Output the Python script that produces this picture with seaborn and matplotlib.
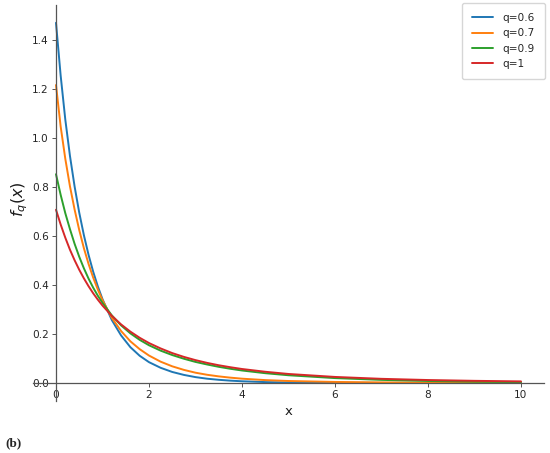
import matplotlib
matplotlib.use("Agg")
import matplotlib.pyplot as plt
import seaborn as sns
import pandas as pd

# ---- data ----
x_vals = [0, 0.1, 0.2, 0.3, 0.4, 0.5, 0.6, 0.7, 0.8, 0.9, 1.0, 1.2, 1.4, 1.6, 1.8,
          2.0, 2.25, 2.5, 2.75, 3.0, 3.25, 3.5, 3.75, 4.0, 4.5, 5, 6, 7, 8, 9, 10]
f_q06 = [1.47, 1.255, 1.075, 0.927, 0.802, 0.695, 0.603, 0.523, 0.454, 0.394, 0.342,
         0.257, 0.194, 0.146, 0.111, 0.085, 0.062, 0.045, 0.033, 0.024, 0.0175, 0.013,
         0.0095, 0.007, 0.0037, 0.002, 0.0006, 0.0002, 0.0001, 0.0, 0.0]
f_q07 = [1.216, 1.047, 0.915, 0.803, 0.708, 0.624, 0.550, 0.486, 0.430, 0.381, 0.338,
         0.266, 0.212, 0.170, 0.138, 0.112, 0.087, 0.068, 0.0535, 0.042, 0.0335, 0.027,
         0.0218, 0.0176, 0.0118, 0.0081, 0.0043, 0.0024, 0.0013, 0.0007, 0.0004]
f_q09 = [0.852, 0.768, 0.693, 0.628, 0.568, 0.515, 0.468, 0.426, 0.389, 0.356, 0.327,
         0.276, 0.235, 0.2025, 0.176, 0.154, 0.132, 0.114, 0.099, 0.086, 0.0755, 0.066,
         0.058, 0.051, 0.040, 0.0316, 0.020, 0.0127, 0.0082, 0.0053, 0.0035]
f_q10 = [0.707, 0.647, 0.593, 0.544, 0.501, 0.462, 0.427, 0.395, 0.366, 0.340, 0.316,
         0.274, 0.239, 0.2095, 0.1845, 0.163, 0.141, 0.122, 0.1065, 0.0933, 0.082, 0.0724,
         0.0643, 0.0571, 0.0458, 0.0368, 0.0247, 0.017, 0.0121, 0.0088, 0.0065]
series_labels = ["q=0.6", "q=0.7", "q=0.9", "q=1"]
x_ticks = [0, 2, 4, 6, 8, 10]
y_ticks = [0.0, 0.2, 0.4, 0.6, 0.8, 1.0, 1.2, 1.4]

colors = ["#1f77b4", "#ff7f0e", "#2ca02c", "#d62728"]

frames = []
for lab, ys in zip(series_labels, [f_q06, f_q07, f_q09, f_q10]):
    frames.append(pd.DataFrame({"x": x_vals, "y": ys, "q": lab}))
df = pd.concat(frames, ignore_index=True)

sns.set_theme(style="ticks")
plt.rcParams["font.family"] = ["DejaVu Sans"]

W, H = 550, 453
fig = plt.figure(figsize=(W / 100, H / 100), dpi=100)
left_px, right_px, top_px, bot_px = 32.75, 544.25, 4.8, 401.0
ax = fig.add_axes([left_px / W, 1 - bot_px / H, (right_px - left_px) / W, (bot_px - top_px) / H])

sns.lineplot(data=df, x="x", y="y", hue="q", palette=colors, hue_order=series_labels,
             linewidth=1.4, estimator=None, sort=False, ax=ax)

ax.set_xlim(-0.5, 10.5)
ax.set_ylim(-0.0735, 1.5435)
ax.spines["left"].set_position(("data", 0))
ax.spines["bottom"].set_position(("data", 0))
ax.spines["top"].set_visible(False)
ax.spines["right"].set_visible(False)
for s in ("left", "bottom"):
    ax.spines[s].set_color("#555555")
    ax.spines[s].set_linewidth(0.9)

ax.set_xticks(x_ticks)
ax.set_xticklabels([str(t) for t in x_ticks])
ax.set_yticks(y_ticks)
ax.set_yticklabels([f"{t:.1f}" for t in y_ticks])
ax.tick_params(labelsize=7.6, length=2.8, width=0.7, color="#555555", labelcolor="#262626", pad=2.5)

ax.set_xlabel("x", fontsize=9.5, color="#1a1a1a")
ax.set_ylabel("$f_q(x)$", fontsize=11.5, color="#1a1a1a")
ax.xaxis.set_label_coords(0.501, -0.009)
ax.yaxis.set_label_coords(-0.006, 0.51)

leg = ax.legend(loc="upper right", bbox_to_anchor=(545 / W, 1 - 3 / H),
                bbox_transform=fig.transFigure, borderaxespad=0.0, borderpad=0.95,
                labelspacing=0.5, handlelength=2.0, handletextpad=0.9,
                fontsize=7.6, frameon=True, fancybox=True, edgecolor="0.8", framealpha=0.8,
                title=None)
for line in leg.get_lines():
    line.set_linewidth(1.4)

fig.text(0.009, 1 - 443 / H, "(b)", fontsize=9.5, fontweight="bold",
         family=["Liberation Serif", "DejaVu Serif"], va="center", ha="left")

fig.savefig("out.png", dpi=100)
